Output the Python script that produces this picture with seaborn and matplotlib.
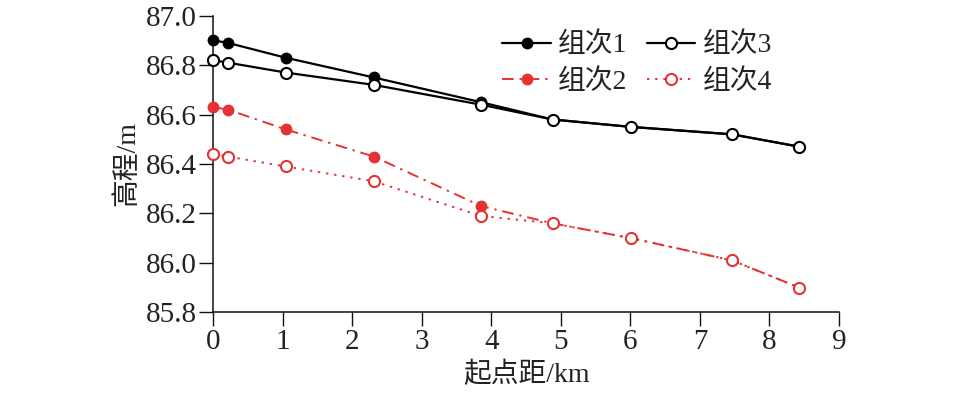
import matplotlib
matplotlib.use("Agg")
import matplotlib.pyplot as plt
import seaborn as sns

# distances from start (km)
dist = [0.0, 0.21, 1.04, 2.31, 3.85, 4.88, 6.01, 7.46, 8.43]

# elevations (m) per group
g1 = [86.90, 86.89, 86.83, 86.75, 86.65, 86.58, 86.55, 86.52, 86.47]
g3 = [86.82, 86.81, 86.77, 86.72, 86.64, 86.58, 86.55, 86.52, 86.47]
g2 = [86.63, 86.62, 86.54, 86.43, 86.23, 86.16, 86.10, 86.01, 85.90]
g4 = [86.44, 86.43, 86.39, 86.33, 86.19, 86.16, 86.10, 86.01, 85.90]

labels = ["组次1", "组次2", "组次3", "组次4"]
xticks = [0, 1, 2, 3, 4, 5, 6, 7, 8, 9]
yticks = [85.8, 86.0, 86.2, 86.4, 86.6, 86.8, 87.0]

sns.set_theme(style="ticks")
plt.rcParams['font.family'] = ['Liberation Serif', 'Noto Sans CJK SC', 'DejaVu Sans']

red = "#e53232"
black = "#000000"

fig = plt.figure(figsize=(9.57, 3.98), dpi=100)
ax = fig.add_axes([0.2229, 0.2153, 0.6538, 0.7453])

# solid black, filled
sns.lineplot(x=dist, y=g1, ax=ax, color=black, linewidth=1.6, linestyle='-',
             marker='o', markersize=7.5, markerfacecolor=black, markeredgecolor=black,
             markeredgewidth=1.0, label=labels[0], clip_on=False, zorder=3)
# red dash-dot, filled
sns.lineplot(x=dist, y=g2, ax=ax, color=red, linewidth=1.4,
             marker='o', markersize=7.5, markerfacecolor=red,
             markeredgecolor=red, markeredgewidth=1.0, label=labels[1],
             clip_on=False, zorder=3)
ax.lines[-1].set_dashes([6, 3, 1.2, 3])
# solid black, open
sns.lineplot(x=dist, y=g3, ax=ax, color=black, linewidth=1.6, linestyle='-',
             marker='o', markersize=8, markerfacecolor='white', markeredgecolor=black,
             markeredgewidth=1.5, label=labels[2], clip_on=False, zorder=4)
# red dotted, open
sns.lineplot(x=dist, y=g4, ax=ax, color=red, linewidth=1.4,
             marker='o', markersize=8, markerfacecolor='white',
             markeredgecolor=red, markeredgewidth=1.5, label=labels[3],
             clip_on=False, zorder=4)
ax.lines[-1].set_dashes([1.2, 3])

ax.set_xlim(0, 9)
ax.set_ylim(85.8, 87.0)
ax.set_xticks(xticks)
ax.set_yticks(yticks)
ax.set_xticklabels([str(t) for t in xticks])
ax.set_yticklabels([f"{t:.1f}" for t in yticks])

sns.despine(ax=ax)
for s in ["left", "bottom"]:
    ax.spines[s].set_linewidth(1.1)
    ax.spines[s].set_color("#111111")
ax.tick_params(axis='both', direction='out', length=10, width=1.0, color="#111111",
               labelsize=21, labelcolor="#222222", pad=2)

ax.set_xlabel("起点距/km", fontsize=20, color="#222222", labelpad=5)
ax.set_ylabel("高程/m", fontsize=20, color="#222222", labelpad=4)

leg = ax.legend(ncol=2, frameon=False, loc='upper left',
                bbox_to_anchor=(0.525, 0.918), bbox_transform=fig.transFigure,
                fontsize=20, handlelength=1.75, handletextpad=0.25,
                columnspacing=0.7, labelspacing=0.4, borderpad=0, borderaxespad=0)
for t in leg.get_texts():
    t.set_color("#222222")

fig.savefig("out.png", dpi=100)
